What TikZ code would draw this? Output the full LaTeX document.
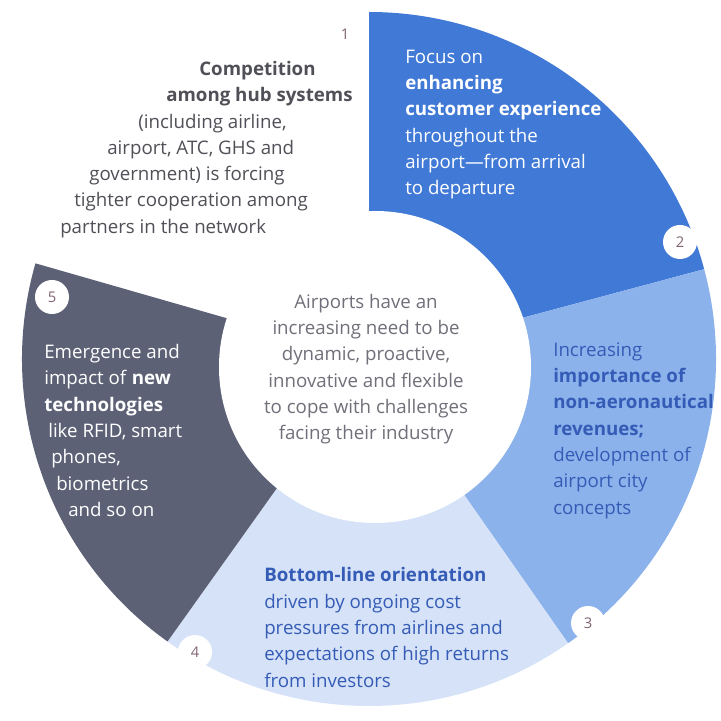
\documentclass[tikz,border=0pt]{standalone}
\usepackage{fontspec}
\setmainfont{Open Sans}
\definecolor{segblue}{RGB}{64,121,214}
\definecolor{seglight}{RGB}{140,178,236}
\definecolor{segpale}{RGB}{214,226,247}
\definecolor{segdark}{RGB}{92,97,118}
\definecolor{inkblue}{RGB}{52,92,182}
\definecolor{inkgrey}{RGB}{80,80,88}
\definecolor{hubgrey}{RGB}{112,112,122}
\definecolor{badgegrey}{RGB}{130,100,115}
\tikzset{
	segtext/.style={
		inner sep=0pt,
		align=left,
		font=\fontsize{13.3}{18.7}\selectfont},
	hubtext/.style={
		inner sep=0pt,
		align=center,
		text=hubgrey,
		font=\fontsize{13.3}{18.7}\selectfont},
	numbadge/.style={
		circle,
		fill=white,
		inner sep=0pt,
		minimum size=0.85cm,
		text=badgegrey,
		font=\fontsize{10.5}{12}\selectfont}
}
\begin{document}
\begin{tikzpicture}[
			x=0.025cm,
			y=0.025cm,
			]
    \useasboundingbox (-369,-362) rectangle (352,359);

    % ring of five segments
    \foreach \from/\to/\col in {90/164/white, 15/90/segblue, -55/15/seglight, -125.5/-55/segpale, 164/234.5/segdark}
      \fill[\col] (0,0) -- (\from:347) arc[start angle=\from, end angle=\to, radius=347] -- cycle;
    \fill[white] (6,-8) circle[radius=156];

    \node[segtext, anchor=west, text=inkgrey] (COMP) at (-309,209.5) {%
      \hspace*{3.475cm}\textbf{Competition}\\
      \hspace*{2.65cm}\textbf{among hub systems}\\
      \hspace*{1.95cm}(including airline,\\
      \hspace*{1.175cm}airport, ATC, GHS and\\
      \hspace*{0.725cm}government) is forcing\\
      \hspace*{0.35cm}tighter cooperation among\\
      partners in the network};
    \node[segtext, anchor=west, text=white] (CUST) at (36,234.5) {%
      Focus on\\
      \textbf{enhancing}\\
      \textbf{customer experience}\\
      throughout the\\
      airport---from arrival\\
      to departure};
    \node[segtext, anchor=west, text=inkblue] (REV) at (184,-71.5) {%
      Increasing\\
      \textbf{importance of}\\
      \textbf{non-aeronautical}\\
      \textbf{revenues;}\\
      development of\\
      airport city\\
      concepts};
    \node[segtext, anchor=west, text=inkblue] (COST) at (-105,-268.5) {%
      \textbf{Bottom-line orientation}\\
      driven by ongoing cost\\
      pressures from airlines and\\
      expectations of high returns\\
      from investors};
    \node[segtext, anchor=west, text=white] (TECH) at (-325,-71.5) {%
      Emergence and\\
      impact of \textbf{new}\\
      \textbf{technologies}\\
      \hspace*{0.1cm}like RFID, smart\\
      \hspace*{0.175cm}phones,\\
      \hspace*{0.3cm}biometrics\\
      \hspace*{0.6cm}and so on};
    \node[hubtext] (HUB) at (-3,-10) {%
      Airports have an\\
      increasing need to be\\
      dynamic, proactive,\\
      innovative and flexible\\
      to cope with challenges\\
      facing their industry};

    % segment numbers
    \node[numbadge] (N1) at (-24,325) {1};
    \node[numbadge] (N2) at (311,117) {2};
    \node[numbadge] (N3) at (219,-264) {3};
    \node[numbadge] (N4) at (-174,-293) {4};
    \node[numbadge] (N5) at (-317,62) {5};
		\end{tikzpicture}
\end{document}
